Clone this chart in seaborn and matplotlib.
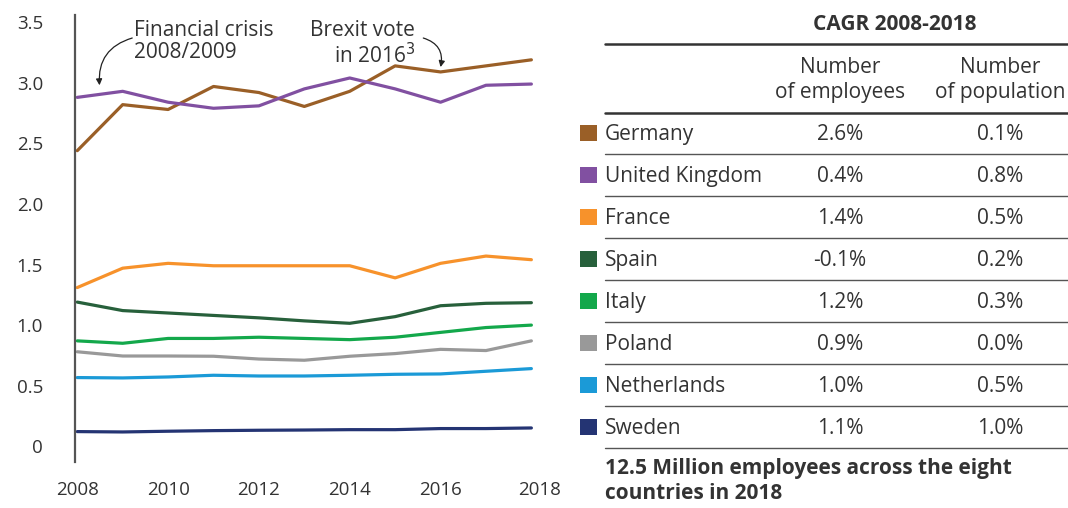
import numpy as np
import pandas as pd
import matplotlib
matplotlib.use("Agg")
import matplotlib.pyplot as plt
import seaborn as sns
from matplotlib.patches import Rectangle
from matplotlib.transforms import ScaledTranslation

years = list(range(2008, 2019))
germany = [2.44, 2.82, 2.78, 2.97, 2.92, 2.805, 2.93, 3.14, 3.09, 3.14, 3.19]
united_kingdom = [2.88, 2.93, 2.84, 2.79, 2.81, 2.95, 3.04, 2.95, 2.84, 2.98, 2.99]
france = [1.31, 1.47, 1.51, 1.49, 1.49, 1.49, 1.49, 1.39, 1.51, 1.57, 1.54]
spain = [1.19, 1.12, 1.10, 1.08, 1.06, 1.035, 1.015, 1.07, 1.16, 1.18, 1.185]
italy = [0.87, 0.85, 0.89, 0.89, 0.90, 0.89, 0.88, 0.90, 0.94, 0.98, 1.00]
poland = [0.78, 0.745, 0.745, 0.743, 0.72, 0.71, 0.743, 0.765, 0.80, 0.79, 0.87]
netherlands = [0.567, 0.564, 0.572, 0.586, 0.58, 0.58, 0.586, 0.594, 0.597, 0.619, 0.641]
sweden = [0.121, 0.118, 0.124, 0.129, 0.132, 0.134, 0.137, 0.137, 0.146, 0.146, 0.151]

countries = ["Germany", "United Kingdom", "France", "Spain", "Italy",
             "Poland", "Netherlands", "Sweden"]
colors = ["#9A5F27", "#8150A1", "#F7922B", "#27603B", "#13A84B",
          "#999999", "#1B9AD7", "#243473"]
cagr_employees = ["2.6%", "0.4%", "1.4%", "-0.1%", "1.2%", "0.9%", "1.0%", "1.1%"]
cagr_population = ["0.1%", "0.8%", "0.5%", "0.2%", "0.3%", "0.0%", "0.5%", "1.0%"]
yticks = [0, 0.5, 1.0, 1.5, 2.0, 2.5, 3.0, 3.5]
ytick_labels = ["0", "0.5", "1.0", "1.5", "2.0", "2.5", "3.0", "3.5"]
xticks = [2008, 2010, 2012, 2014, 2016, 2018]

series = [germany, united_kingdom, france, spain, italy, poland, netherlands, sweden]
df = pd.DataFrame({
    "year": years * len(countries),
    "value": [v for s in series for v in s],
    "country": [c for c in countries for _ in years],
})

sns.set_theme(style="white")
plt.rcParams["font.family"] = ["Open Sans", "DejaVu Sans"]
TXT = "#333333"

fig = plt.figure(figsize=(10.68, 5.08), dpi=100)

# table / legend panel in pixel coordinates
tab = fig.add_axes([0, 0, 1, 1])
tab.set_xlim(0, 1068)
tab.set_ylim(508, 0)
tab.axis("off")
tab.patch.set_visible(False)

ax = fig.add_axes([75 / 1068, 46 / 508, (545 - 75) / 1068, (462 - 15) / 508])
sns.lineplot(data=df, x="year", y="value", hue="country", hue_order=countries,
             palette=dict(zip(countries, colors)), linewidth=2.3, ax=ax,
             legend=False)
ax.set_xlim(2007.95, 2018.3)
ax.set_ylim(-0.13, 3.56)
ax.set_xlabel("")
ax.set_ylabel("")
ax.set_yticks(yticks)
ax.set_yticklabels(ytick_labels)
ax.set_xticks(xticks)
ax.set_xticklabels([str(x) for x in xticks])
ax.tick_params(axis="y", length=0, pad=23, labelsize=13.5, labelcolor=TXT)
ax.tick_params(axis="x", length=0, pad=14, labelsize=13.5, labelcolor=TXT)
last = ax.get_xticklabels()[-1]
last.set_transform(last.get_transform() + ScaledTranslation(0.08, 0, fig.dpi_scale_trans))
for s in ["top", "right", "bottom"]:
    ax.spines[s].set_visible(False)
ax.spines["left"].set_color("#555555")
ax.spines["left"].set_linewidth(1.6)
ax.patch.set_visible(False)

# annotations
AFS = 15
ax.text(2009.26, 3.52, "Financial crisis\n2008/2009", ha="left", va="top",
        fontsize=AFS, color=TXT, linespacing=1.1)
ax.annotate("", xy=(2008.49, 2.98), xytext=(2009.21, 3.37),
            arrowprops=dict(arrowstyle="-|>", color="#222222", lw=0.9,
                            connectionstyle="arc3,rad=0.4",
                            mutation_scale=9, shrinkA=0, shrinkB=0))
ax.text(2015.44, 3.52, "Brexit vote\nin 2016$^{3}$", ha="right", va="top",
        fontsize=AFS, color=TXT, linespacing=1.1, multialignment="right")
ax.annotate("", xy=(2016.0, 3.13), xytext=(2015.62, 3.37),
            arrowprops=dict(arrowstyle="-|>", color="#222222", lw=0.9,
                            connectionstyle="arc3,rad=-0.45",
                            mutation_scale=9, shrinkA=0, shrinkB=0))

# table
FS = 15
tab.text(895, 25, "CAGR 2008-2018", ha="center", va="center", fontsize=FS,
         fontweight="bold", color=TXT)
tab.plot([605, 1068], [44, 44], color="#333333", lw=1.8)
tab.text(840, 80, "Number\nof employees", ha="center", va="center",
         fontsize=FS, color=TXT, linespacing=1.3)
tab.text(1000, 80, "Number\nof population", ha="center", va="center",
         fontsize=FS, color=TXT, linespacing=1.3)
tab.plot([605, 1068], [113, 113], color="#333333", lw=1.8)
row0, dy = 133.3, 41.9
for i, c in enumerate(countries):
    yc = row0 + i * dy
    yt = yc + 1.5
    tab.add_patch(Rectangle((580, yc - 8), 17, 16, color=colors[i], lw=0))
    tab.text(605, yt, c, ha="left", va="center", fontsize=FS, color=TXT)
    tab.text(840, yt, cagr_employees[i], ha="center", va="center",
             fontsize=FS, color=TXT)
    tab.text(1000, yt, cagr_population[i], ha="center", va="center",
             fontsize=FS, color=TXT)
    tab.plot([605, 1068], [yc + 20.9, yc + 20.9], color="#555555", lw=1.0)
tab.text(605, 481, "12.5 Million employees across the eight\ncountries in 2018",
         ha="left", va="center", fontsize=FS, fontweight="bold", color=TXT,
         linespacing=1.2)

fig.savefig("out.png", dpi=100)
